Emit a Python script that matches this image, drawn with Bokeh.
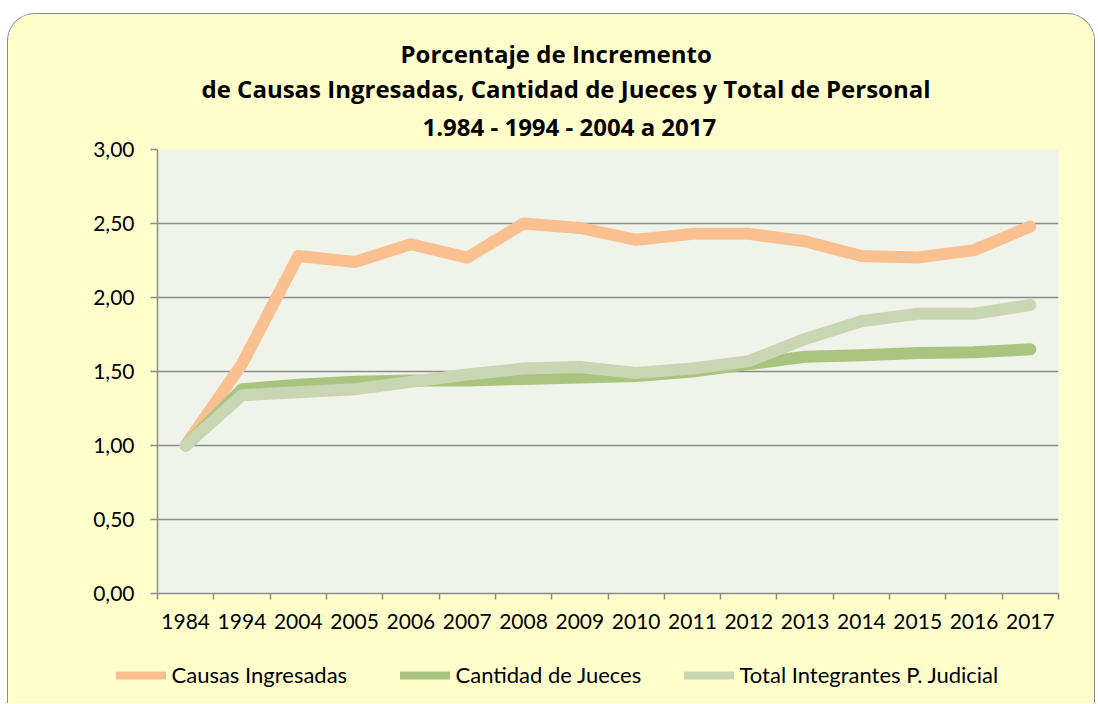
from bokeh.plotting import figure
from bokeh.layouts import column
from bokeh.models import Range1d, FixedTicker, Legend, LegendItem, Title
from bokeh.embed import file_html
from bokeh.resources import INLINE

# ---------------- data ----------------
years = ["1984", "1994", "2004", "2005", "2006", "2007", "2008", "2009",
         "2010", "2011", "2012", "2013", "2014", "2015", "2016", "2017"]
causas = [1.00, 1.55, 2.28, 2.24, 2.36, 2.27, 2.50, 2.47,
          2.39, 2.43, 2.43, 2.38, 2.28, 2.27, 2.32, 2.48]
jueces = [1.00, 1.38, 1.41, 1.43, 1.44, 1.44, 1.45, 1.46,
          1.47, 1.50, 1.55, 1.60, 1.61, 1.625, 1.63, 1.65]
total = [1.00, 1.34, 1.36, 1.38, 1.43, 1.48, 1.52, 1.53,
         1.49, 1.52, 1.57, 1.72, 1.84, 1.89, 1.89, 1.95]
series_names = ["Causas Ingresadas", "Cantidad de Jueces", "Total Integrantes P. Judicial"]
y_ticks = [0.0, 0.5, 1.0, 1.5, 2.0, 2.5, 3.0]
title_lines = ["Porcentaje de Incremento",
               "de  Causas Ingresadas, Cantidad de Jueces y Total de Personal",
               "1.984 - 1994 - 2004 a 2017"]

# ---------------- style ----------------
FONT = "Lato"
TFONT = "Open Sans"
C_ORANGE = "#FAC090"
C_DGREEN = "#A9C47F"
C_LGREEN = "#C8D6B4"
GRAY = "#8A8A8A"
YELLOW = "#FFFFCC"
series = [(causas, C_ORANGE), (jueces, C_DGREEN), (total, C_LGREEN)]

xs = [i + 0.5 for i in range(len(years))]

p = figure(width=1086, height=636, output_backend="svg", toolbar_location=None,
           title=None, x_range=Range1d(0, len(years)), y_range=Range1d(0, 3),
           min_border_left=149, min_border_right=36, min_border_top=135,
           min_border_bottom=57)
p.border_fill_color = YELLOW
p.background_fill_color = "#EFF3E9"
p.outline_line_color = None

# lines (Total drawn on top)
for vals, col in series:
    p.line(xs, vals, line_color=col, line_width=12, line_join="round", line_cap="round")

# x axis
xa = p.xaxis[0]
xa.ticker = FixedTicker(ticks=xs, minor_ticks=list(range(len(years) + 1)))
xa.major_label_overrides = {x: y for x, y in zip(xs, years)}
xa.major_tick_line_color = None
xa.major_tick_out = 0
xa.major_tick_in = 0
xa.minor_tick_line_color = GRAY
xa.minor_tick_line_width = 1.5
xa.minor_tick_out = 6
xa.minor_tick_in = 0
xa.axis_line_color = GRAY
xa.axis_line_width = 1.5
xa.major_label_standoff = 14
xa.major_label_text_font = FONT
xa.major_label_text_font_size = "21px"
xa.major_label_text_color = "#000000"

# y axis
ya = p.yaxis[0]
ya.ticker = FixedTicker(ticks=y_ticks)
ya.major_label_overrides = {t: ("%.2f" % t).replace(".", ",") for t in y_ticks}
ya.major_tick_line_color = GRAY
ya.major_tick_line_width = 1.5
ya.major_tick_out = 7
ya.major_tick_in = 0
ya.minor_tick_line_color = None
ya.axis_line_color = GRAY
ya.axis_line_width = 1.5
ya.major_label_standoff = 16
ya.major_label_text_font = FONT
ya.major_label_text_font_size = "21px"
ya.major_label_text_color = "#000000"

p.xgrid.visible = False
p.ygrid.grid_line_color = GRAY
p.ygrid.grid_line_width = 1.5

# title: three lines, bottom line added first (stacks outward)
for txt, off, so in zip(reversed(title_lines), [265, 44, 243], [13, -6, 5]):
    t = Title(text=txt, align="left", offset=off,
              text_font=TFONT, text_font_style="bold", text_font_size="24px",
              text_color="#000000")
    try:
        t.standoff = so
    except Exception:
        t.standoff = 0
    p.add_layout(t, "above")

# legend strip below the chart (its sample lines lie outside its own view)
pl = figure(width=1086, height=53, output_backend="svg", toolbar_location=None,
            title=None, x_axis_type=None, y_axis_type=None, min_border=0,
            x_range=Range1d(0, len(years)), y_range=Range1d(10, 11))
if "frame_align" in pl.properties():
    pl.frame_align = False
pl.border_fill_color = YELLOW
pl.background_fill_color = YELLOW
pl.outline_line_color = None
items = []
for name, (vals, col) in zip(series_names, series):
    r = pl.line(xs, vals, line_color=col, line_width=8, line_cap="round")
    items.append(LegendItem(label=name, renderers=[r]))
lg = Legend(items=items, location=(107.5, 15), orientation="horizontal",
            glyph_width=50, glyph_height=24, label_height=24, label_width=228,
            label_standoff=6, padding=0, margin=0, spacing=0,
            border_line_color=None, background_fill_alpha=0,
            label_text_font=FONT, label_text_font_size="22px", label_text_color="#000000")
pl.add_layout(lg, "center")

layout = column(p, pl, spacing=0)
layout.styles = {"border": "1.5px solid #8C8C8C", "border-bottom": "none",
                 "border-radius": "28px 28px 0 0", "background-color": YELLOW,
                 "overflow": "hidden", "margin-top": "13px", "margin-left": "7px"}

open("out.html", "w").write(file_html(layout, INLINE))
